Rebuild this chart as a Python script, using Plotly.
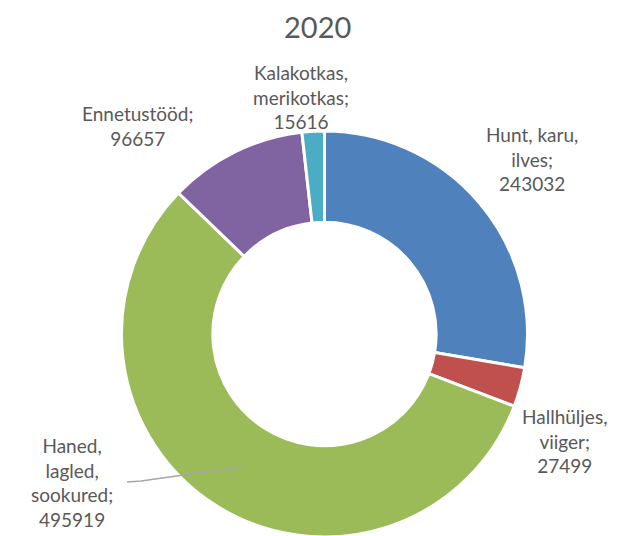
import plotly.graph_objects as go

categories = ["Hunt, karu, ilves", "Hallhüljes, viiger", "Haned, lagled, sookured",
              "Ennetustööd", "Kalakotkas, merikotkas"]
values = [243032, 27499, 495919, 96657, 15616]
label_texts = ["Hunt, karu,<br>ilves;<br>243032",
               "Hallhüljes,<br>viiger;<br>27499",
               "Haned,<br>lagled,<br>sookured;<br>495919",
               "Ennetustööd;<br>96657",
               "Kalakotkas,<br>merikotkas;<br>15616"]
colors = ["#4F81BD", "#C0504D", "#9BBB59", "#8064A2", "#4BACC6"]

W, H = 626, 536
OX, OY = 7, 8  # page offset of the plot div
FONT = "Lato, Open Sans, sans-serif"
TXT = "#595959"

def px(x):
    return (x - OX) / W

def py(y):
    return 1 - (y - OY) / H

fig = go.Figure(go.Pie(
    labels=categories, values=values, sort=False, direction="clockwise",
    rotation=0, hole=0.55, textinfo="none", hoverinfo="label+value",
    marker=dict(colors=colors, line=dict(color="white", width=3)),
    domain=dict(x=[px(120.5), px(526.5)], y=[py(537), py(131)]),
    showlegend=False,
))

# label anchor centers (pixel coords in the page)
label_pos = [(531, 159), (563, 441), (71, 482), (136, 126), (300, 97)]
anns = []
for t, (x, y) in zip(label_texts, label_pos):
    anns.append(dict(text=t, x=px(x), y=py(y), xref="paper", yref="paper",
                     showarrow=False, xanchor="center", yanchor="middle",
                     font=dict(family=FONT, size=19, color=TXT), align="center"))

anns.append(dict(text="2020", x=px(316), y=py(26), xref="paper", yref="paper",
                 showarrow=False, xanchor="center", yanchor="middle",
                 font=dict(family=FONT, size=29, color=TXT)))

fig.update_layout(
    width=W, height=H, margin=dict(l=0, r=0, t=0, b=0),
    paper_bgcolor="white", plot_bgcolor="white",
    annotations=anns,
    shapes=[dict(type="path", xref="paper", yref="paper",
                 path=f"M {px(126)} {py(482)} L {px(140)} {py(481)} L {px(240)} {py(467)}",
                 line=dict(color="#A6A6A6", width=1.3))],
)

fig.write_html("out.html")
